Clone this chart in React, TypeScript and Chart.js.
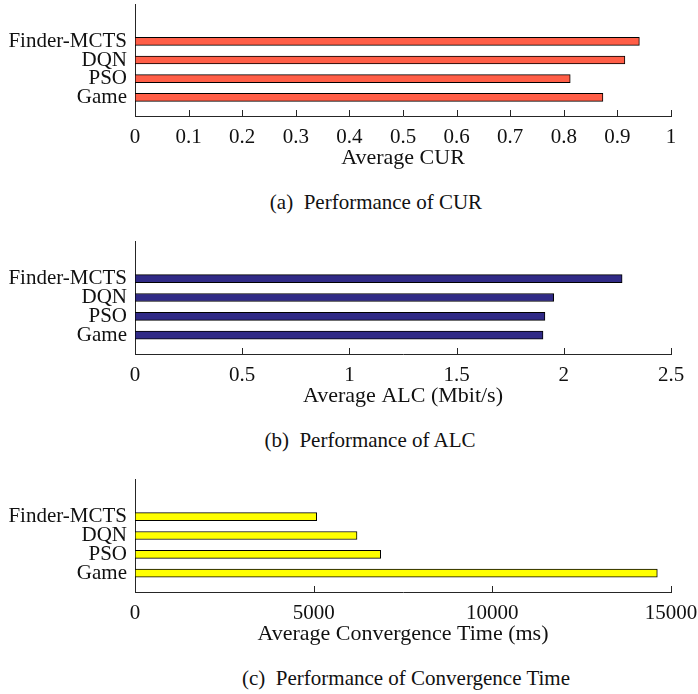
import React, { useEffect, useRef } from "react";
import { Chart, registerables } from "chart.js";

Chart.register(...registerables);

// ---- data ----
const categories = ["Finder-MCTS", "DQN", "PSO", "Game"];
const curValues = [0.941, 0.914, 0.812, 0.873];
const alcValues = [2.272, 1.953, 1.912, 1.903];
const timeValues = [5085, 6213, 6875, 14617];

const curTicks = [0, 0.1, 0.2, 0.3, 0.4, 0.5, 0.6, 0.7, 0.8, 0.9, 1];
const curTickLabels = ["0", "0.1", "0.2", "0.3", "0.4", "0.5", "0.6", "0.7", "0.8", "0.9", "1"];
const alcTicks = [0, 0.5, 1, 1.5, 2, 2.5];
const alcTickLabels = ["0", "0.5", "1", "1.5", "2", "2.5"];
const timeTicks = [0, 5000, 10000, 15000];
const timeTickLabels = ["0", "5000", "10000", "15000"];

const xTitles = ["Average CUR", "Average ALC (Mbit/s)", "Average Convergence Time (ms)"];
const captions = ["(a)\u00a0\u00a0Performance of CUR", "(b)\u00a0\u00a0Performance of ALC", "(c)\u00a0\u00a0Performance of Convergence Time"];

// ---- styles ----
const FONT = "'Liberation Serif', 'Times New Roman', serif";
const AXIS_COLOR = "#262626";
const TEXT_COLOR = "#111111";
const barColors = ["#FF5E47", "#302A86", "#FFFF00"];

const W = 698;
const H = 180;
const PAD_TOP = 4;
const PLOT_LEFT = 135;
const PLOT_RIGHT = 671;
const TITLE_OFFSET = 42;
const CAPTION_OFFSET = 86;
const TITLE_SIZE = 22;

type PanelDef = {
  values: number[];
  ticks: number[];
  tickLabels: string[];
  title: string;
  caption: string;
  color: string;
  plotTop: number;
  plotBottom: number;
  captionCx: number;
};

const panels: PanelDef[] = [
  { values: curValues, ticks: curTicks, tickLabels: curTickLabels, title: xTitles[0], caption: captions[0], color: barColors[0], plotTop: 4, plotBottom: 116, captionCx: 376 },
  { values: alcValues, ticks: alcTicks, tickLabels: alcTickLabels, title: xTitles[1], caption: captions[1], color: barColors[1], plotTop: 241, plotBottom: 354, captionCx: 370 },
  { values: timeValues, ticks: timeTicks, tickLabels: timeTickLabels, title: xTitles[2], caption: captions[2], color: barColors[2], plotTop: 479, plotBottom: 592, captionCx: 406 },
];

const innerTicks = {
  id: "innerTicks",
  afterDraw(chart: any) {
    const xs = chart.scales.x;
    const ctx = chart.ctx;
    const bottom = chart.chartArea.bottom;
    ctx.save();
    ctx.strokeStyle = AXIS_COLOR;
    ctx.lineWidth = 1;
    xs.ticks.forEach((t: any) => {
      const px = Math.round(xs.getPixelForValue(t.value)) + 0.5;
      ctx.beginPath();
      ctx.moveTo(px, bottom);
      ctx.lineTo(px, bottom - 6);
      ctx.stroke();
    });
    ctx.restore();
  },
};

function Panel({ def }: { def: PanelDef }) {
  const ref = useRef<HTMLCanvasElement | null>(null);
  const canvasTop = def.plotTop - PAD_TOP;
  useEffect(() => {
    if (!ref.current) return;
    const plotH = def.plotBottom - def.plotTop;
    const xAxisH = H - PAD_TOP - plotH;
    const titleCenter = plotH + TITLE_OFFSET;
    const titleLine = TITLE_SIZE * 1.2;
    const titlePadBottom = H - PAD_TOP - titleCenter - titleLine / 2;
    const labels = ["", "", ...categories, ""];
    const data = [null, null, ...def.values, null];
    const chart = new Chart(ref.current, {
      type: "bar",
      data: {
        labels,
        datasets: [
          {
            data: data as any,
            backgroundColor: def.color,
            borderColor: "#000000",
            borderWidth: 1,
            borderSkipped: false,
            barThickness: 8,
          },
        ],
      },
      options: {
        indexAxis: "y",
        animation: false,
        responsive: false,
        maintainAspectRatio: false,
        layout: { padding: { top: PAD_TOP, left: 0, right: W - PLOT_RIGHT, bottom: 0 } },
        plugins: { legend: { display: false }, tooltip: { enabled: false } },
        scales: {
          x: {
            type: "linear",
            min: def.ticks[0],
            max: def.ticks[def.ticks.length - 1],
            grid: { display: false, drawTicks: false },
            border: { display: true, color: AXIS_COLOR, width: 1 },
            afterBuildTicks: (scale: any) => {
              scale.ticks = def.ticks.map((v) => ({ value: v }));
            },
            ticks: {
              autoSkip: false,
              maxRotation: 0,
              padding: 9,
              color: TEXT_COLOR,
              font: { family: FONT, size: 21 },
              callback: (_v: any, i: number) => def.tickLabels[i],
            },
            title: {
              display: true,
              text: def.title,
              color: TEXT_COLOR,
              font: { family: FONT, size: TITLE_SIZE },
              padding: { top: 0, bottom: titlePadBottom },
            },
            afterFit: (scale: any) => {
              scale.height = xAxisH;
              scale.paddingLeft = 0;
              scale.paddingRight = 0;
            },
          },
          y: {
            type: "category",
            offset: false,
            grid: { display: false, drawTicks: false },
            border: { display: true, color: AXIS_COLOR, width: 1 },
            ticks: {
              autoSkip: false,
              padding: 8,
              color: TEXT_COLOR,
              font: { family: FONT, size: 21 },
            },
            afterFit: (scale: any) => {
              scale.width = PLOT_LEFT;
              scale.paddingTop = 0;
              scale.paddingBottom = 0;
            },
          },
        },
      },
      plugins: [innerTicks],
    });
    return () => chart.destroy();
  }, [def]);
  return (
    <>
      <canvas
        ref={ref}
        width={W}
        height={H}
        style={{ position: "absolute", left: 0, top: canvasTop, width: W, height: H, display: "block" }}
      />
      <div
        style={{
          position: "absolute",
          left: 0,
          width: def.captionCx * 2,
          top: def.plotBottom + CAPTION_OFFSET - 12,
          height: 24,
          lineHeight: "24px",
          textAlign: "center",
          fontFamily: FONT,
          fontSize: 21,
          color: TEXT_COLOR,
          whiteSpace: "nowrap",
        }}
      >
        {def.caption}
      </div>
    </>
  );
}

export default function App() {
  return (
    <div style={{ position: "absolute", left: 0, top: 0, width: W, height: 694, background: "#ffffff", overflow: "hidden" }}>
      {panels.map((p, i) => (
        <Panel key={i} def={p} />
      ))}
    </div>
  );
}
